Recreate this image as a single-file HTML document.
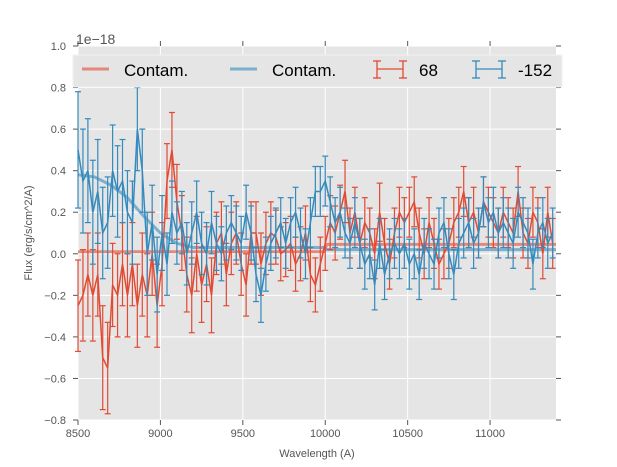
<!DOCTYPE html>
<html><head><meta charset="utf-8"><style>
body{margin:0;background:#fff;}
svg{display:block;font-family:"Liberation Sans",sans-serif;}
</style></head><body>
<svg id="chart" width="617" height="467" viewBox="0 0 617 467" xmlns="http://www.w3.org/2000/svg">
<rect x="78" y="46" width="478" height="374" fill="#e5e5e5"/>
<g id="grid"></g>
<g id="ticks"></g>
<g id="series"></g>
<text x="76" y="44" font-size="14" fill="#555">1e−18</text>
<text transform="translate(32,233) rotate(-90)" text-anchor="middle" font-size="11" fill="#555">Flux (erg/s/cm^2/A)</text>
<text x="317" y="457" text-anchor="middle" font-size="11" fill="#555">Wavelength (A)</text>
<g>
<rect x="73" y="55" width="489" height="32" fill="#e5e5e5" stroke="#f2f2f2" stroke-width="1" opacity="0.95"/>
<line x1="82" y1="69" x2="109" y2="69" stroke="#E24A33" stroke-opacity="0.6" stroke-width="3"/>
<text x="124" y="76" font-size="17" fill="#000">Contam.</text>
<line x1="230" y1="69" x2="257" y2="69" stroke="#348ABD" stroke-opacity="0.6" stroke-width="3"/>
<text x="272" y="76" font-size="17" fill="#000">Contam.</text>
<g stroke="#E24A33" stroke-width="1.3" fill="none">
<line x1="377" y1="69" x2="403" y2="69"/><line x1="377" y1="61" x2="377" y2="78"/><line x1="403" y1="61" x2="403" y2="78"/>
<line x1="373" y1="61" x2="381" y2="61"/><line x1="373" y1="78" x2="381" y2="78"/><line x1="399" y1="61" x2="407" y2="61"/><line x1="399" y1="78" x2="407" y2="78"/></g>
<text x="419" y="76" font-size="17" fill="#000">68</text>
<g stroke="#348ABD" stroke-width="1.3" fill="none">
<line x1="476" y1="69" x2="502" y2="69"/><line x1="476" y1="61" x2="476" y2="78"/><line x1="502" y1="61" x2="502" y2="78"/>
<line x1="472" y1="61" x2="480" y2="61"/><line x1="472" y1="78" x2="480" y2="78"/><line x1="498" y1="61" x2="506" y2="61"/><line x1="498" y1="78" x2="506" y2="78"/></g>
<text x="518" y="76" font-size="17" fill="#000">-152</text>
</g>
</svg>
<script>
const wavelengths=[8500,8530,8560,8590,8620,8650,8680,8710,8740,8770,8800,8830,8860,8890,8920,8950,8980,9010,9040,9070,9100,9130,9160,9190,9220,9250,9280,9310,9340,9370,9400,9430,9460,9490,9520,9550,9580,9610,9640,9670,9700,9730,9760,9790,9820,9850,9880,9910,9940,9970,10000,10030,10060,10090,10120,10150,10180,10210,10240,10270,10300,10330,10360,10390,10420,10450,10480,10510,10540,10570,10600,10630,10660,10690,10720,10750,10780,10810,10840,10870,10900,10930,10960,10990,11020,11050,11080,11110,11140,11170,11200,11230,11260,11290,11320,11350,11380];
const redFlux=[-0.25,-0.2,-0.1,-0.2,-0.1,-0.5,-0.55,-0.15,-0.2,-0.05,-0.2,-0.05,-0.25,-0.1,-0.2,0.0,-0.25,-0.05,0.35,0.5,0.25,0.1,-0.1,-0.2,0.0,-0.15,-0.05,-0.2,0.05,0.1,-0.1,0.05,0.1,-0.05,-0.15,0.1,0.1,-0.05,0.05,0.1,0.08,0.0,0.02,0.05,-0.05,0.0,0.1,-0.1,-0.15,-0.05,0.05,0.15,0.1,0.2,0.3,0.1,0.2,0.05,0.15,0.1,0.0,0.2,0.05,-0.05,0.1,0.2,0.15,0.2,0.25,0.1,0.0,0.15,0.05,-0.05,0.0,0.05,0.15,0.2,0.3,0.15,0.2,0.1,0.25,0.2,0.15,0.1,0.2,0.15,0.1,0.3,0.1,0.05,0.2,0.15,0.0,0.2,0.05];
const redErr=[0.22,0.22,0.2,0.22,0.2,0.25,0.22,0.2,0.2,0.2,0.2,0.2,0.2,0.2,0.2,0.2,0.2,0.2,0.18,0.18,0.18,0.18,0.18,0.18,0.18,0.18,0.18,0.18,0.15,0.15,0.15,0.15,0.15,0.15,0.15,0.15,0.15,0.15,0.15,0.15,0.13,0.13,0.13,0.13,0.13,0.13,0.13,0.13,0.13,0.13,0.13,0.13,0.13,0.13,0.15,0.12,0.12,0.12,0.12,0.12,0.12,0.14,0.12,0.12,0.12,0.12,0.12,0.12,0.12,0.12,0.12,0.12,0.12,0.12,0.12,0.12,0.12,0.12,0.12,0.12,0.12,0.12,0.12,0.12,0.12,0.12,0.12,0.12,0.12,0.12,0.12,0.12,0.12,0.12,0.12,0.12,0.12];
const blueFlux=[0.5,0.35,0.4,0.2,0.3,0.1,0.15,0.4,0.3,0.35,0.2,0.15,0.6,0.4,0.0,0.15,-0.1,0.1,-0.05,0.2,0.1,0.15,0.0,0.1,0.2,0.05,0.0,0.15,0.05,0.0,0.1,0.15,0.1,0.05,0.2,0.1,-0.1,-0.2,-0.05,0.05,0.1,0.15,0.05,0.15,0.2,0.1,0.0,0.15,0.3,0.3,0.35,0.25,0.15,0.2,0.1,0.05,0.15,0.05,-0.05,0.0,-0.15,0.05,-0.1,0.0,0.05,0.0,0.05,-0.05,0.0,-0.1,0.05,0.0,-0.05,0.1,0.15,0.0,-0.1,0.05,0.1,0.15,0.05,0.1,0.25,0.15,0.2,0.1,0.15,0.1,0.05,0.2,0.15,0.1,-0.05,0.1,0.15,0.05,0.1];
const blueErr=[0.28,0.25,0.25,0.25,0.25,0.22,0.22,0.22,0.22,0.2,0.2,0.2,0.2,0.2,0.2,0.18,0.18,0.18,0.15,0.15,0.15,0.15,0.15,0.15,0.15,0.15,0.15,0.15,0.13,0.13,0.13,0.13,0.13,0.13,0.13,0.13,0.13,0.13,0.13,0.13,0.12,0.12,0.12,0.12,0.12,0.12,0.12,0.12,0.12,0.12,0.12,0.12,0.12,0.12,0.12,0.12,0.12,0.12,0.12,0.12,0.12,0.12,0.12,0.12,0.12,0.12,0.12,0.12,0.12,0.12,0.12,0.12,0.12,0.12,0.12,0.12,0.12,0.12,0.12,0.12,0.12,0.12,0.12,0.12,0.12,0.12,0.12,0.12,0.12,0.12,0.12,0.12,0.12,0.12,0.12,0.12,0.12];
const contamWl=[8500,8600,8700,8800,8900,9000,9100,9200,9500,9990,10010,10500,11000,11400];
const redContam=[0.01,0.01,0.01,0.01,0.01,0.01,0.01,0.01,0.01,0.01,0.045,0.045,0.045,0.045];
const blueContam=[0.38,0.37,0.33,0.27,0.18,0.1,0.05,0.03,0.03,0.03,0.02,0.02,0.02,0.02];
const xTicks=[8500,9000,9500,10000,10500,11000];
const xTickLabels=["8500","9000","9500","10000","10500","11000"];
const yTicks=[-0.8,-0.6,-0.4,-0.2,0.0,0.2,0.4,0.6,0.8,1.0];
const yTickLabels=["−0.8","−0.6","−0.4","−0.2","0.0","0.2","0.4","0.6","0.8","1.0"];

const NS="http://www.w3.org/2000/svg";
const X0=78,X1=556,Y0=420,Y1=46,XMIN=8500,XMAX=11400,YMIN=-0.8,YMAX=1.0;
function xs(v){return X0+(v-XMIN)/(XMAX-XMIN)*(X1-X0);}
function ys(v){return Y0-(v-YMIN)/(YMAX-YMIN)*(Y0-Y1);}
function mk(tag,attrs,parent){const e=document.createElementNS(NS,tag);for(const k in attrs)e.setAttribute(k,attrs[k]);parent.appendChild(e);return e;}
const grid=document.getElementById('grid'),ticks=document.getElementById('ticks'),series=document.getElementById('series');
xTicks.forEach((t,i)=>{
  const g=mk('line',{x1:xs(t),x2:xs(t),y1:Y1,y2:Y0,stroke:'#fff','stroke-width':1},grid);
  
  
  mk('line',{x1:xs(t),x2:xs(t),y1:Y0,y2:Y0+5,stroke:'#555'},ticks);
  mk('line',{x1:xs(t),x2:xs(t),y1:Y1,y2:Y1-5,stroke:'#555'},ticks);
  const l=mk('text',{x:xs(t),y:Y0+17,'text-anchor':'middle','font-size':11,fill:'#555'},ticks);
  l.textContent=xTickLabels[i];
  
  
});
yTicks.forEach((t,i)=>{
  const g=mk('line',{x1:X0,x2:X1,y1:ys(t),y2:ys(t),stroke:'#fff','stroke-width':1},grid);
  
  
  mk('line',{x1:X0-5,x2:X0,y1:ys(t),y2:ys(t),stroke:'#555'},ticks);
  mk('line',{x1:X1,x2:X1+5,y1:ys(t),y2:ys(t),stroke:'#555'},ticks);
  const l=mk('text',{x:X0-12,y:ys(t)+4,'text-anchor':'end','font-size':11,fill:'#555'},ticks);
  l.textContent=yTickLabels[i];
  
  
});
function contam(vals,color,name){
  const p=mk('polyline',{points:contamWl.map((w,i)=>xs(w)+','+ys(vals[i])).join(' '),fill:'none',stroke:color,'stroke-opacity':0.6,'stroke-width':3},series);
  
  
}
function errSeries(vals,errs,color,name){
  const g=mk('g',{stroke:color,'stroke-width':1.2,fill:'none'},series);
  
  
  wavelengths.forEach((w,i)=>{
    const x=xs(w),a=ys(vals[i]+errs[i]),b=ys(vals[i]-errs[i]);
    mk('line',{x1:x,x2:x,y1:a,y2:b},g);
    mk('line',{x1:x-3,x2:x+3,y1:a,y2:a},g);
    mk('line',{x1:x-3,x2:x+3,y1:b,y2:b},g);
  });
  const p=mk('polyline',{points:wavelengths.map((w,i)=>xs(w)+','+ys(vals[i])).join(' '),'stroke-width':1.5},g);
  
  
}
contam(redContam,'#E24A33','red-contam-line');
contam(blueContam,'#348ABD','blue-contam-line');
errSeries(redFlux,redErr,'#E24A33','series-68');
errSeries(blueFlux,blueErr,'#348ABD','series-minus152');
</script>
</body></html>
